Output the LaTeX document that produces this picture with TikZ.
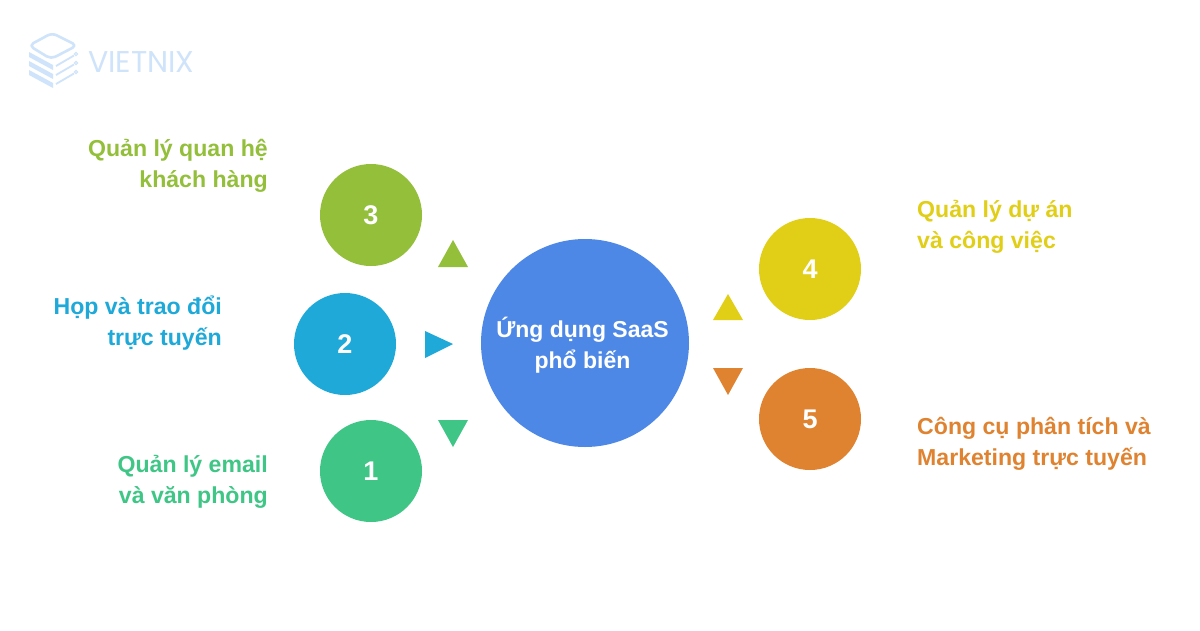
\documentclass[tikz,border=0pt]{standalone}
\usepackage{fontspec}
\setmainfont{Liberation Sans}
\newfontfamily\logofont{Poppins}
\definecolor{cgreen}{HTML}{93BF3A}
\definecolor{cblue}{HTML}{1EA9D9}
\definecolor{cteal}{HTML}{3FC686}
\definecolor{cyellow}{HTML}{E1CE17}
\definecolor{corange}{HTML}{DF8331}
\definecolor{ccenter}{HTML}{4E88E7}
\definecolor{clogo}{HTML}{CFE3FA}
\tikzset{
  x=1pt,y=-1pt,
  disc/.style={circle,inner sep=0pt,minimum size=102pt,text=white,font=\bfseries\fontsize{27}{27}\selectfont},
  lblr/.style={align=right,anchor=east,inner sep=0pt,font=\bfseries\fontsize{23.1}{31}\selectfont},
  lbll/.style={align=left,anchor=west,inner sep=0pt,font=\bfseries\fontsize{23.1}{31}\selectfont},
  logoline/.style={draw=clogo,line width=2.6pt,line join=round,line cap=round}
}
\begin{document}
\begin{tikzpicture}
\useasboundingbox (0,0) rectangle (1200,630);
\fill[white] (0,0) rectangle (1200,630);
% logo
\draw[logoline,rounded corners=5pt] (29,45.5) -- (52,33) -- (77,45.5) -- (51,59) -- cycle;
\foreach \d in {0,9,18}{
  \fill[clogo] (29,{52+\d}) -- (53,{65+\d}) -- (53,{70+\d}) -- (29,{57+\d}) -- cycle;
  \draw[clogo,line width=1.8pt] (56,{66+\d}) -- (74,{55.5+\d});
  \draw[clogo,line width=1pt] (76,{54+\d}) circle (1.6);
}
\node[text=clogo,anchor=west,inner sep=0pt,font=\logofont\fontsize{30}{30}\selectfont] (logo) at (88,62) {VIETNIX};
% central
\node[circle,fill=ccenter,minimum size=208pt,inner sep=0pt] (c) at (585,343) {};
\node[text=white,inner sep=0pt,align=center,font=\bfseries\fontsize{23}{31}\selectfont] (ct) at (582.5,345.5) {Ứng dụng SaaS\\phổ biến};
% discs
\node[disc,fill=cgreen] (n3) at (371,215) {3};
\node[disc,fill=cblue] (n2) at (345,344) {2};
\node[disc,fill=cteal] (n1) at (371,471) {1};
\node[disc,fill=cyellow] (n4) at (810,269) {4};
\node[disc,fill=corange] (n5) at (810,419) {5};
% triangles
\fill[cgreen] (453,240) -- (468,267) -- (438,267) -- cycle;
\fill[cblue] (425,331) -- (453,344) -- (425,358) -- cycle;
\fill[cteal] (438,420) -- (468,420) -- (453,447) -- cycle;
\fill[cyellow] (728,294) -- (743,320) -- (713,320) -- cycle;
\fill[corange] (713,368) -- (743,368) -- (728,395) -- cycle;
% labels
\node[lblr,text=cgreen] (l3) at (268,166) {Quản lý quan hệ\\khách hàng};
\node[lblr,text=cblue] (l2) at (222,323) {Họp và trao đổi\\trực tuyến};
\node[lblr,text=cteal] (l1) at (268,482) {Quản lý email\\và văn phòng};
\node[lbll,text=cyellow] (l4) at (917,227) {Quản lý dự án\\và công việc};
\node[lbll,text=corange] (l5) at (917,444) {Công cụ phân tích và\\Marketing trực tuyến};
\end{tikzpicture}
\end{document}
